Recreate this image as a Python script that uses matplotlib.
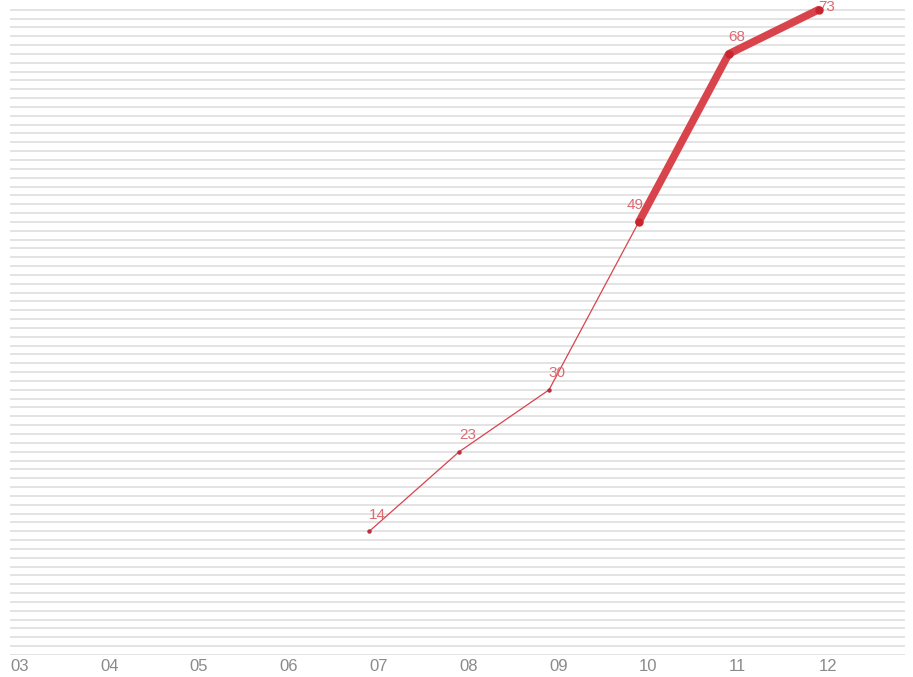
import matplotlib; matplotlib.use("agg")
import matplotlib.pyplot as plt
import numpy as np

months = ['03', '04', '05', '06', '07', '08', '09', '10', '11', '12']
thin_months = ['07', '08', '09', '10']
thin_values = [14, 23, 30, 49]
thick_months = ['10', '11', '12']
thick_values = [49, 68, 73]
labels_months = ['07', '08', '09', '10', '11', '12']
labels_values = [14, 23, 30, 49, 68, 73]

red = '#d9434c'
pink = '#dc6a72'

plt.rcParams['font.family'] = ['Liberation Sans Narrow', 'Liberation Sans', 'DejaVu Sans']

fig = plt.figure(figsize=(9.13, 6.77), dpi=100)
ax = fig.add_axes([0.011, 0.0325, 0.98, 0.9675])

pos = {m: i for i, m in enumerate(months)}

# horizontal grid every unit
for yv in range(0, 74):
    ax.axhline(yv, color='#e3e3e3', lw=1.4, zorder=0)

tx = [pos[m] for m in thin_months]
ax.plot(tx, thin_values, color=red, lw=0.9, zorder=3)
ax.plot(tx, thin_values, 'o', color='#b8303a', ms=2.2, zorder=4)

kx = [pos[m] for m in thick_months]
ax.plot(kx, thick_values, color=red, lw=5.5, solid_capstyle='round', zorder=3)
ax.plot(kx, thick_values, 'o', color='#c8262f', ms=5, zorder=4)

for m, v in zip(labels_months, labels_values):
    if m == '12':
        # top label sits against the upper edge
        ax.annotate(str(v), (pos[m], 1.0), xycoords=('data', 'axes fraction'),
                    xytext=(6, 0), textcoords='offset points',
                    ha='center', va='top', color=pink, fontsize=11)
        continue
    dx = -3 if m == '10' else 6
    ax.annotate(str(v), (pos[m], v), xytext=(dx, 7), textcoords='offset points',
                ha='center', va='bottom', color=pink, fontsize=11)

ax.set_xlim(0, 9.96)
ax.set_ylim(0, 74.1)
ax.set_xticks(range(len(months)))
ax.set_xticklabels(months, ha='left', color='#8a8a8a', fontsize=12)
ax.tick_params(axis='x', length=0, pad=3)
ax.set_yticks([])
for s in ax.spines.values():
    s.set_visible(False)

plt.savefig('out.png', dpi=100)
